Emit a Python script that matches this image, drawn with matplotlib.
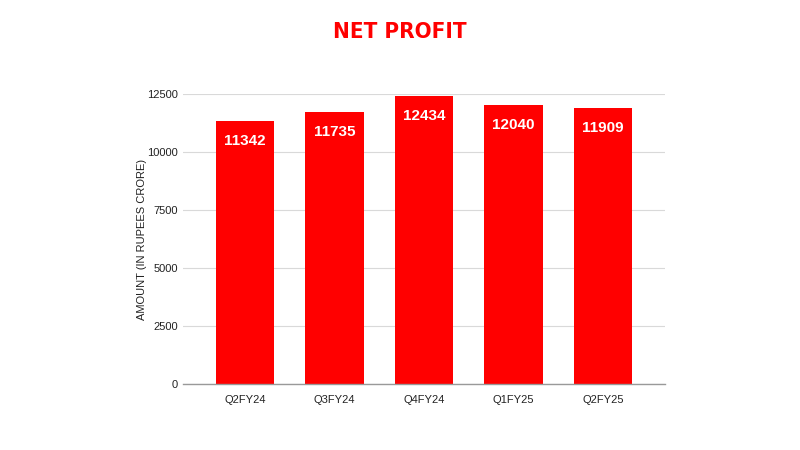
import matplotlib.pyplot as plt
import numpy as np

plt.rcParams["font.family"] = ["Liberation Sans", "DejaVu Sans"]

quarters = ["Q2FY24", "Q3FY24", "Q4FY24", "Q1FY25", "Q2FY25"]
net_profit = [11342, 11735, 12434, 12040, 11909]
y_ticks = [0, 2500, 5000, 7500, 10000, 12500]

fig = plt.figure(figsize=(8, 4.5), dpi=100)
ax = fig.add_axes([0.229, 0.1467, 0.602, 0.644])

x = np.arange(len(quarters))
bars = ax.bar(x, net_profit, width=0.65, color="#ff0000", zorder=3)

for xi, val in zip(x, net_profit):
    ax.text(xi, val - 860, str(val), ha="center", va="center", color="white",
            fontsize=11, fontweight="bold", zorder=4)

ax.set_xlim(-0.69, len(quarters) - 0.31)
ax.set_ylim(0, 12500)
ax.set_yticks(y_ticks)
ax.set_xticks(x)
ax.set_xticklabels(quarters)
ax.tick_params(axis="both", length=0, labelsize=8, colors="#222222")
ax.tick_params(axis="x", pad=8)
ax.tick_params(axis="y", pad=4)

ax.grid(axis="y", color="#d9d9d9", linewidth=0.8, zorder=0)
for side in ["top", "right", "left"]:
    ax.spines[side].set_visible(False)
ax.spines["bottom"].set_color("#999999")
ax.spines["bottom"].set_linewidth(1)
ax.spines["bottom"].set_zorder(5)

ax.set_ylabel("AMOUNT (IN RUPEES CRORE)", fontsize=8, color="#222222", labelpad=0)

fig.text(0.5, 0.928, "NET PROFIT", ha="center", va="center", color="#ff0000",
         fontsize=16, fontweight="bold", family="DejaVu Sans", stretch="condensed")

fig.savefig("out.png", dpi=100)
